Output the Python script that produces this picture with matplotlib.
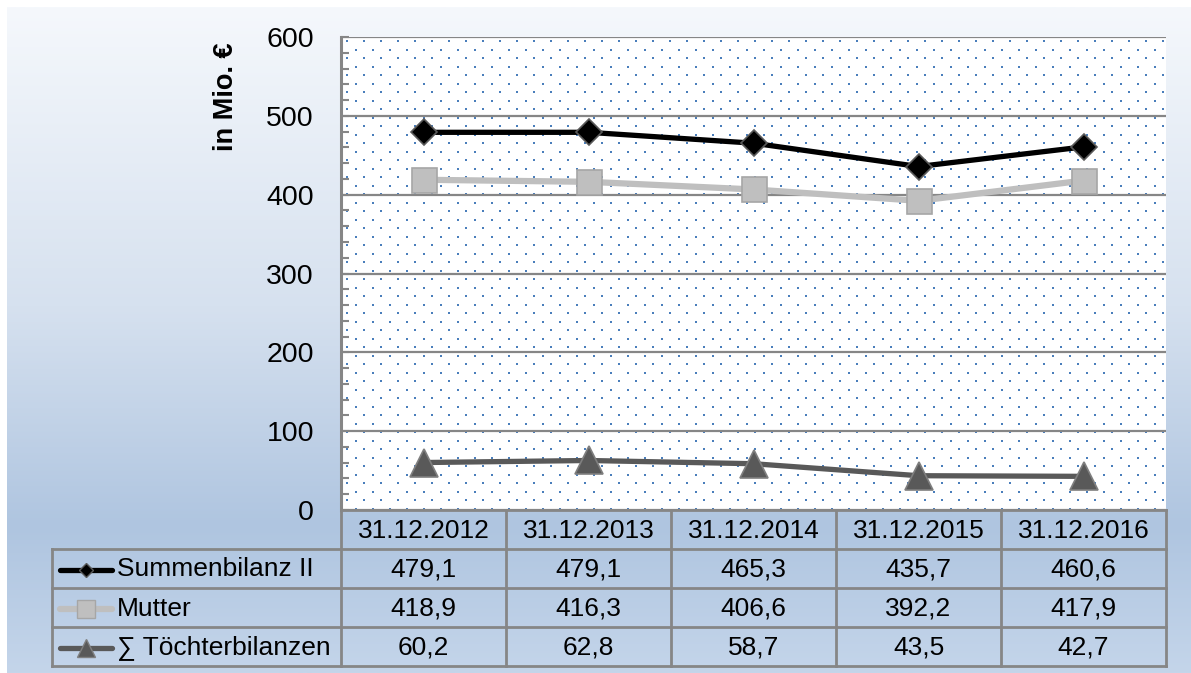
import numpy as np
import matplotlib
matplotlib.use("Agg")
import matplotlib.pyplot as plt
from matplotlib.colors import LinearSegmentedColormap
from matplotlib.lines import Line2D

plt.rcParams['font.family'] = ['Liberation Sans', 'DejaVu Sans']

categories = ["31.12.2012", "31.12.2013", "31.12.2014", "31.12.2015", "31.12.2016"]
summenbilanz = [479.1, 479.1, 465.3, 435.7, 460.6]
mutter = [418.9, 416.3, 406.6, 392.2, 417.9]
toechter = [60.2, 62.8, 58.7, 43.5, 42.7]
series_names = ["Summenbilanz II", "Mutter", "\u2211 Töchterbilanzen"]
y_ticks = [0, 100, 200, 300, 400, 500, 600]

W, H = 1191, 673
fig = plt.figure(figsize=(W / 100, H / 100), dpi=100)
fig.patch.set_facecolor('white')

# overlay axes in pixel coordinates (background + table)
bg = fig.add_axes([0, 0, 1, 1], zorder=0)
bg.set_xlim(0, W)
bg.set_ylim(H, 0)
bg.axis('off')
cmap = LinearSegmentedColormap.from_list(
    'bgc', [(0, '#f5f8fc'), (0.45, '#d6e1ef'), (0.78, '#afc5e0'), (1.0, '#c4d5ea')])
grad = np.linspace(0, 1, 256).reshape(-1, 1)
bg.imshow(grad, cmap=cmap, extent=[7, W, H, 7], aspect='auto', zorder=0)

# plot area geometry (pixels)
px0, px1, py0, py1 = 341, 1166, 37, 510
bg.add_patch(plt.Rectangle((px0, py0), px1 - px0, py1 - py0, facecolor='white',
                           edgecolor='none', zorder=1))
# dotted pattern
dx, dy = 17.0, 8.5
pts_x, pts_y = [], []
row = 0
yy = py0 + 4
while yy < py1 - 1:
    off = 0 if row % 2 == 0 else dx / 2
    xx = px0 + 6 + off
    while xx < px1 - 1:
        pts_x.append(xx)
        pts_y.append(yy)
        xx += dx
    yy += dy
    row += 1
bg.scatter(pts_x, pts_y, s=3.2, marker='s', color='#4a7ebb', linewidths=0, zorder=2)

# main axes
ax = fig.add_axes([px0 / W, 1 - py1 / H, (px1 - px0) / W, (py1 - py0) / H], zorder=2)
ax.patch.set_alpha(0)
ax.set_xlim(-0.5, len(categories) - 0.5)
ax.set_ylim(0, 600)
ax.set_yticks(y_ticks)
ax.set_yticklabels([str(v) for v in y_ticks], fontsize=20.5)
ax.set_yticks(np.arange(0, 601, 20), minor=True)
ax.tick_params(axis='y', which='both', direction='in', length=6, width=1.5,
               color='#868686', pad=19.5)
ax.tick_params(axis='x', bottom=False, labelbottom=False)
for s in ['top', 'right', 'bottom']:
    ax.spines[s].set_visible(False)
ax.spines['left'].set_color('#868686')
ax.spines['left'].set_linewidth(2.2)
ax.grid(axis='y', which='major', color='#868686', linewidth=1.6)
ax.set_axisbelow(True)

x = np.arange(len(categories))
ax.plot(x, mutter, color='#bfbfbf', lw=4.5, marker='s', ms=18, mfc='#bfbfbf',
        mec='#a6a6a6', mew=1.2, zorder=3, clip_on=False)
ax.plot(x, summenbilanz, color='black', lw=3.8, marker='D', ms=13.5, mfc='black',
        mec='#595959', mew=1.2, zorder=4, clip_on=False)
ax.plot(x, toechter, color='#595959', lw=3.8, marker='^', ms=20, mfc='#595959',
        mec='#7f7f7f', mew=1.2, zorder=4, clip_on=False)

fig.text(226 / W, 1 - 97 / H, "in Mio. \u20ac", rotation=90, fontsize=19.5,
         fontweight='bold', ha='center', va='center')

# table
tcol = '#868686'
tlw = 2
lx0 = 52
rows_y = [510, 549, 588, 627, 666]
col_x = np.linspace(px0, px1, len(categories) + 1)
bg.plot([px0, px1], [rows_y[0], rows_y[0]], color=tcol, lw=tlw, zorder=3)
for cx in col_x:
    bg.plot([cx, cx], [rows_y[0], rows_y[-1]], color=tcol, lw=tlw, zorder=3)
for ry in rows_y[1:]:
    bg.plot([lx0, px1], [ry, ry], color=tcol, lw=tlw, zorder=3)
bg.plot([lx0, lx0], [rows_y[1], rows_y[-1]], color=tcol, lw=tlw, zorder=3)

fs = 19
for i, c in enumerate(categories):
    bg.text((col_x[i] + col_x[i + 1]) / 2, (rows_y[0] + rows_y[1]) / 2 + 1, c,
            fontsize=fs, ha='center', va='center', zorder=4)

data_rows = [summenbilanz, mutter, toechter]
styles = [
    dict(color='black', lw=3.8, marker='D', ms=7.5, mfc='black', mec='#595959', mew=1),
    dict(color='#bfbfbf', lw=4.5, marker='s', ms=13, mfc='#bfbfbf', mec='#a6a6a6', mew=1),
    dict(color='#595959', lw=3.8, marker='^', ms=13, mfc='#595959', mec='#7f7f7f', mew=1),
]
for r, (name, vals, st) in enumerate(zip(series_names, data_rows, styles)):
    yc = (rows_y[r + 1] + rows_y[r + 2]) / 2 + 1
    bg.add_line(Line2D([60, 112], [yc, yc], solid_capstyle='round', zorder=4,
                       color=st['color'], lw=st['lw']))
    bg.add_line(Line2D([86], [yc], zorder=5, linestyle='none', marker=st['marker'],
                       ms=st['ms'], mfc=st['mfc'], mec=st['mec'], mew=st['mew']))
    bg.text(117, yc, name, fontsize=fs, ha='left', va='center', zorder=4)
    for i, v in enumerate(vals):
        bg.text((col_x[i] + col_x[i + 1]) / 2, yc, f"{v:.1f}".replace('.', ','),
                fontsize=fs, ha='center', va='center', zorder=4)

fig.savefig('out.png', dpi=100)
